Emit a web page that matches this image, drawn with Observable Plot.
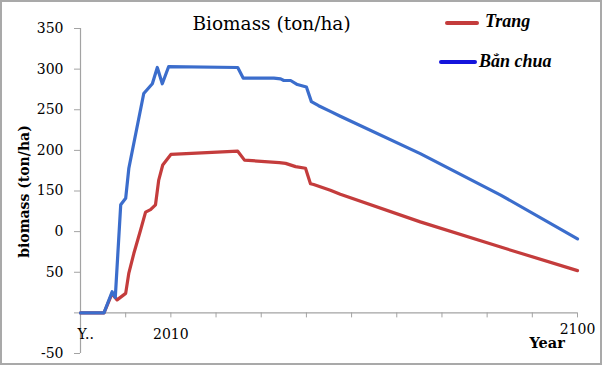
<!DOCTYPE html>
<html><head><meta charset="utf-8">
<script src="https://cdn.jsdelivr.net/npm/d3@7"></script>
<script src="https://cdn.jsdelivr.net/npm/@observablehq/plot@0.6"></script>
<style>
html,body{margin:0;padding:0;background:#fff;}
#wrap{position:relative;width:603px;height:370px;overflow:hidden;background:#fff;}
#border{position:absolute;left:0;top:0;width:602px;height:365px;border:2px solid #a9a9a9;box-sizing:border-box;pointer-events:none;}
.leg{position:absolute;font-family:"Liberation Serif",serif;font-weight:bold;font-style:italic;font-size:18px;line-height:1;color:#000;white-space:nowrap;}
.sw{position:absolute;height:4px;border-radius:2px;}
</style></head><body>
<div id="wrap"><div id="chart"></div>
<div class="sw" id="sw0" style="left:445px;top:21px;width:34px;"></div>
<div class="leg" id="lg0" style="left:485px;top:12px;"></div>
<div class="sw" id="sw1" style="left:439px;top:60px;width:38px;"></div>
<div class="leg" id="lg1" style="left:479px;top:52px;"></div>
<div id="border"></div></div>
<script>
const seriesNames = ["Trang", "Bẳn chua"];
const seriesColors = ["#c43c3c", "#3b6dcc"];
const legendColors = ["#c43c3c", "#1414dc"];

const trangYears  = [1990, 1995.2, 1997.0, 1997.5, 1998.1, 2000.0, 2000.7, 2001.8, 2003.3, 2004.4, 2005.5, 2006.6, 2007.3, 2008.2, 2010.0, 2024.8, 2026.3, 2034.0, 2035.4, 2037.6, 2039.8, 2040.9, 2041.6, 2045.3, 2047.5, 2065.2, 2083.0, 2100];
const trangValues = [0, 0, 24, 20, 16, 24, 49, 73, 102, 124, 127, 133, 163, 182, 195, 199, 188, 185, 184, 180, 178, 159, 158, 151, 146, 112, 81, 52];

const banChuaYears  = [1990, 1995.2, 1997.0, 1997.7, 1998.9, 2000.0, 2000.7, 2004.0, 2005.9, 2007.0, 2008.1, 2009.5, 2024.8, 2026.0, 2032.8, 2034.3, 2035.0, 2036.5, 2038.0, 2040.0, 2041.1, 2042.7, 2045.3, 2047.5, 2065.2, 2083.0, 2100];
const banChuaValues = [0, 0, 26, 19, 133, 141, 178, 270, 282, 302, 282, 303, 302, 289, 289, 288, 286, 286, 281, 278, 260, 255, 248, 242, 196, 145, 91];

const yTicks = [-50, 0, 50, 100, 150, 200, 250, 300, 350];
const yTickLabels = ["-50", "", "50", "0", "150", "200", "250", "300", "350"];
const xTicks = [1990, 2000, 2010, 2020, 2030, 2040, 2050, 2060, 2070, 2080, 2090, 2100];
const xFirstYear = [1990];
const xFirstLabel = ["Y.."];
const xMidYear = [2010];
const xMidLabel = ["2010"];
const xEndYear = [2100];
const xEndLabel = ["2100"];

const chartTitle = "Biomass (ton/ha)";
const yTitle = "biomass (ton/ha)";
const xTitle = "Year";

const data = [
  ...trangYears.map((y, i) => ({series: seriesNames[0], year: y, value: trangValues[i]})),
  ...banChuaYears.map((y, i) => ({series: seriesNames[1], year: y, value: banChuaValues[i]}))
];

const axisGray = "#a3a3a3";

const chart = Plot.plot({
  width: 603, height: 370,
  marginLeft: 80, marginRight: 26, marginTop: 28, marginBottom: 17,
  x: {domain: [1990, 2100], axis: null},
  y: {domain: [-50, 350], axis: null},
  color: {domain: seriesNames, range: seriesColors},
  style: {fontFamily: "DejaVu Serif", fontSize: "14px", background: "transparent", color: "#000"},
  marks: [
    Plot.ruleX([1990], {stroke: axisGray, strokeWidth: 1.2}),
    Plot.ruleY([0], {stroke: axisGray, strokeWidth: 1.2}),
    Plot.ruleX(xTicks, {x: d => d, y1: 0, y2: 0, insetBottom: -5, stroke: axisGray}),
    Plot.axisY({ticks: yTicks, tickFormat: d => yTickLabels[yTicks.indexOf(d)], tickSize: 6, tickPadding: 11, stroke: axisGray, strokeOpacity: 1, label: null, fontSize: 14}),
    Plot.text(xFirstYear, {x: d => d, y: 0, text: (d, i) => xFirstLabel[i], dy: 22, dx: -3, textAnchor: "start", fontSize: 14}),
    Plot.text(xMidYear, {x: d => d, y: 0, text: (d, i) => xMidLabel[i], dy: 22, textAnchor: "middle", fontSize: 14}),
    Plot.line(data, {x: "year", y: "value", z: "series", stroke: "series", strokeWidth: 3.2, strokeLinejoin: "round", strokeLinecap: "round"}),
    Plot.text(xEndYear, {x: d => d, y: 0, text: (d, i) => xEndLabel[i], dy: 17, fontSize: 14}),
    Plot.text([chartTitle], {frameAnchor: "top-left", dx: 191, dy: -4, textAnchor: "middle", lineAnchor: "middle", fontSize: 18.5}),
    Plot.text([yTitle], {frameAnchor: "top-left", dx: -56, dy: 163, rotate: -90, textAnchor: "middle", lineAnchor: "middle", fontWeight: "bold", fontSize: 14}),
    Plot.text([xTitle], {frameAnchor: "top-left", dx: 449, dy: 315, textAnchor: "start", lineAnchor: "middle", fontWeight: "bold", fontSize: 14.5})
  ]
});
document.getElementById("chart").appendChild(chart);

document.getElementById("sw0").style.background = legendColors[0];
document.getElementById("sw1").style.background = legendColors[1];
document.getElementById("lg0").textContent = seriesNames[0];
document.getElementById("lg1").textContent = seriesNames[1];
</script>
</body></html>
